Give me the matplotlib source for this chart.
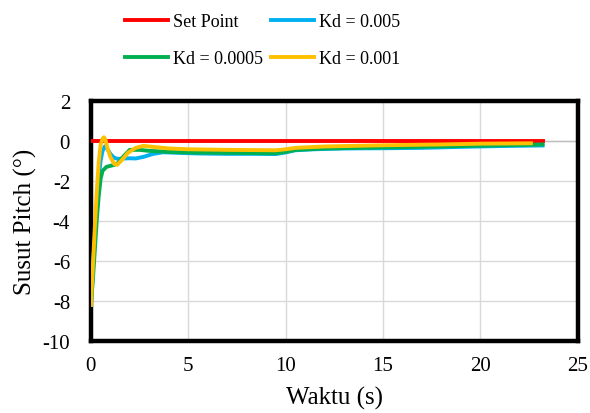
import matplotlib.pyplot as plt

plt.rcParams['font.family'] = ['Liberation Serif', 'DejaVu Serif']
plt.rcParams['axes.unicode_minus'] = False

# Set point
t_sp = [0, 23.2]
y_sp = [0, 0]

# Kd = 0.005
t_kd1 = [0, 0.1, 0.2, 0.3, 0.4, 0.5, 0.6, 0.72, 0.85, 1.0, 1.2, 1.4, 1.7, 2.0, 2.3, 2.7,
         3.2, 3.7, 4.5, 5.5, 7, 8.5, 9.5, 10, 10.5, 11.5, 13, 15, 17, 19, 21, 23.2]
y_kd1 = [-8.2, -6.5, -4.8, -3.2, -1.9, -1.0, -0.5, -0.27, -0.4, -0.65, -0.85, -0.9, -0.88,
         -0.87, -0.88, -0.8, -0.65, -0.57, -0.6, -0.63, -0.65, -0.65, -0.66, -0.58, -0.47,
         -0.42, -0.38, -0.37, -0.35, -0.3, -0.26, -0.23]

# Kd = 0.0005
t_kd2 = [0, 0.1, 0.2, 0.3, 0.4, 0.5, 0.6, 0.8, 1.0, 1.2, 1.4, 1.7, 2.0, 2.5, 3.0, 4, 5, 7,
         9.5, 10, 10.5, 12, 15, 18, 21, 23.2]
y_kd2 = [-8.2, -7.0, -5.5, -4.0, -2.8, -1.9, -1.5, -1.3, -1.25, -1.2, -1.1, -0.75, -0.45,
         -0.45, -0.5, -0.55, -0.58, -0.6, -0.62, -0.55, -0.45, -0.38, -0.33, -0.28, -0.22, -0.18]

# Kd = 0.001
t_kd3 = [0, 0.1, 0.2, 0.3, 0.4, 0.5, 0.6, 0.67, 0.75, 0.85, 1.0, 1.2, 1.35, 1.6, 1.9, 2.3,
         2.7, 3.2, 4, 5, 7, 9.5, 10, 10.5, 12, 15, 18, 20, 22.6]
y_kd3 = [-8.2, -6.3, -4.4, -2.6, -1.1, -0.2, 0.1, 0.18, 0.05, -0.35, -0.8, -1.15, -1.2,
         -0.95, -0.6, -0.35, -0.25, -0.3, -0.38, -0.42, -0.45, -0.47, -0.42, -0.35, -0.28,
         -0.22, -0.18, -0.14, -0.12]

fig = plt.figure(figsize=(5.9, 4.14), dpi=100)
ax = fig.add_axes([0.154, 0.174, 0.825, 0.58])

ax.axhline(0, color='#bfbfbf', lw=1, zorder=1)
l_sp, = ax.plot(t_sp, y_sp, color='#ff0000', lw=2.8, label='Set Point', zorder=3)
l1, = ax.plot(t_kd1, y_kd1, color='#00b0f0', lw=2.8, label='Kd = 0.005', zorder=4)
l2, = ax.plot(t_kd2, y_kd2, color='#00b050', lw=2.8, label='Kd = 0.0005', zorder=5)
l3, = ax.plot(t_kd3, y_kd3, color='#ffc000', lw=2.8, label='Kd = 0.001', zorder=6)

ax.set_xlim(0, 25)
ax.set_ylim(-10, 2)
ax.set_xticks(range(0, 26, 5))
ax.set_yticks(range(-10, 3, 2))
ax.grid(True, color='#d9d9d9', lw=1)
ax.set_axisbelow(True)
ax.tick_params(length=0, labelsize=15)
ax.tick_params(axis='x', pad=11)
ax.tick_params(axis='y', pad=15)
for s in ax.spines.values():
    s.set_linewidth(3.2)
    s.set_color('black')

ax.set_xlabel('Waktu (s)', fontsize=18, labelpad=8)
ax.set_ylabel('Susut Pitch (°)', fontsize=18, labelpad=4)

fig.legend([l_sp, l2, l1, l3], ['Set Point', 'Kd = 0.0005', 'Kd = 0.005', 'Kd = 0.001'],
           ncol=2, loc='upper center', bbox_to_anchor=(0.445, 1.005), frameon=False,
           fontsize=13, handlelength=2.4, handletextpad=0.3, columnspacing=0.4,
           labelspacing=1.1)

fig.savefig('out.png', dpi=100)
